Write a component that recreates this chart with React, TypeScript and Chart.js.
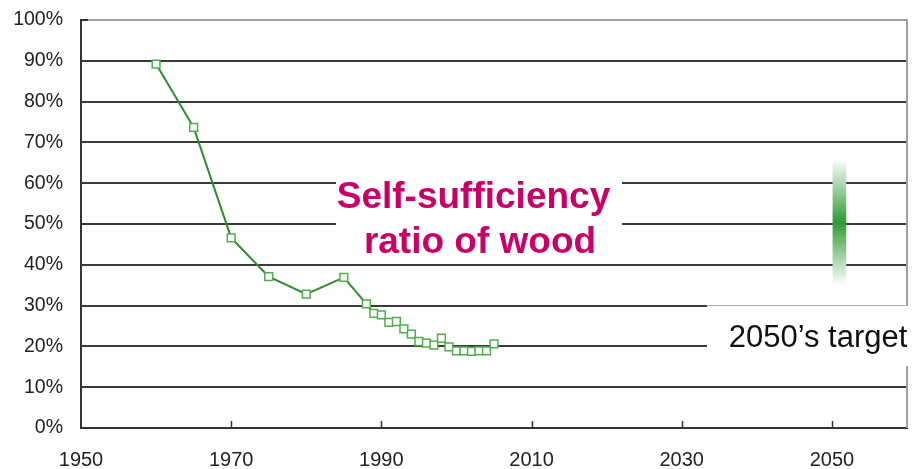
import { useEffect, useRef } from 'react';
import { Chart, registerables } from 'chart.js';

Chart.register(...registerables);

const FONT = '"Liberation Sans", Arial, Helvetica, sans-serif';

// Data
const years = [1960, 1965, 1970, 1975, 1980, 1985, 1988, 1989, 1990, 1991, 1992, 1993, 1994, 1995, 1996, 1997, 1998, 1999, 2000, 2001, 2002, 2003, 2004, 2005];
const ratios = [89.2, 73.7, 46.6, 37.1, 32.8, 36.9, 30.4, 28.1, 27.7, 25.9, 26.1, 24.3, 23.0, 21.2, 20.8, 20.3, 22.0, 19.9, 18.9, 18.9, 18.8, 18.9, 18.9, 20.6];
const targetYear = 2051;
const targetRange = [35, 66];
const xTickValues = [1950, 1970, 1990, 2010, 2030, 2050];
const yTickValues = [0, 10, 20, 30, 40, 50, 60, 70, 80, 90, 100];
const titleLines = ['Self-sufficiency', 'ratio of wood'];
const targetLabel = '2050\u2019s target';

const overlay = {
  id: 'overlay',
  afterDraw(chart: any) {
    const { ctx, chartArea: a, scales } = chart;
    const x = scales.x;
    const y = scales.y;
    ctx.save();
    // right frame border
    ctx.strokeStyle = '#a0a0a0';
    ctx.lineWidth = 2;
    ctx.beginPath();
    ctx.moveTo(a.right, a.top - 1);
    ctx.lineTo(a.right, a.bottom);
    ctx.stroke();
    // inside tick marks on x axis
    ctx.strokeStyle = '#333';
    ctx.lineWidth = 1.5;
    xTickValues.forEach((v, i) => {
      if (i === 0) return;
      const px = Math.round(x.getPixelForValue(v)) + 0.5;
      ctx.beginPath();
      ctx.moveTo(px, a.bottom);
      ctx.lineTo(px, a.bottom - 7);
      ctx.stroke();
    });
    // inside tick at top of y axis
    const py = y.getPixelForValue(100);
    ctx.lineWidth = 2;
    ctx.beginPath();
    ctx.moveTo(a.left, py);
    ctx.lineTo(a.left + 7, py);
    ctx.stroke();

    // title box
    ctx.fillStyle = '#ffffff';
    ctx.fillRect(336, 165, 286, 95);
    ctx.fillStyle = '#c80068';
    ctx.font = `bold 37px ${FONT}`;
    ctx.textAlign = 'center';
    ctx.textBaseline = 'alphabetic';
    ctx.fillText(titleLines[0], 473.5, 208);
    ctx.fillText(titleLines[1], 480, 253);

    // target label box
    ctx.fillStyle = '#ffffff';
    ctx.fillRect(707, 306, 215, 60);
    ctx.strokeStyle = '#b0b0b0';
    ctx.lineWidth = 1;
    ctx.beginPath();
    ctx.moveTo(707, 305.5);
    ctx.lineTo(a.right, 305.5);
    ctx.stroke();
    ctx.fillStyle = '#111';
    ctx.font = `31px ${FONT}`;
    ctx.fillText(targetLabel, 818, 347);
    ctx.restore();
  },
};

export default function App() {
  const ref = useRef<HTMLCanvasElement>(null);
  useEffect(() => {
    document.body.style.margin = '0';
    const canvas = ref.current!;
    const chart = new Chart(canvas, {
      type: 'line',
      data: {
        datasets: [
          {
            type: 'line',
            data: years.map((yr, i) => ({ x: yr, y: ratios[i] })),
            borderColor: '#2e8b2e',
            borderWidth: 2,
            pointStyle: 'rect',
            pointRadius: 5.5,
            pointBorderColor: '#4fae4f',
            pointBackgroundColor: '#ffffff',
            pointBorderWidth: 1.5,
            tension: 0,
            order: 1,
          } as any,
          {
            type: 'bar',
            data: [{ x: targetYear, y: targetRange }],
            barThickness: 13,
            borderWidth: 0,
            order: 2,
            backgroundColor: (c: any) => {
              const ch = c.chart;
              if (!ch.chartArea) return '#2f9b35';
              const ys = ch.scales.y;
              const top = ys.getPixelForValue(targetRange[1]);
              const bot = ys.getPixelForValue(targetRange[0]);
              const g = ch.ctx.createLinearGradient(0, top, 0, bot);
              g.addColorStop(0, '#ffffff');
              g.addColorStop(0.5, '#2f9b35');
              g.addColorStop(1, '#ffffff');
              return g;
            },
          } as any,
        ],
      },
      options: {
        animation: false,
        responsive: false,
        devicePixelRatio: 1,
        layout: { padding: { top: 20, right: 15, left: 0, bottom: 0 } },
        plugins: { legend: { display: false }, tooltip: { enabled: false } },
        scales: {
          x: {
            type: 'linear',
            min: 1950,
            max: 2060,
            offset: false,
            afterBuildTicks: (s: any) => {
              s.ticks = xTickValues.map((v) => ({ value: v }));
            },
            afterFit: (s: any) => {
              s.height = 41;
            },
            grid: { display: false, drawTicks: false, tickLength: 0, offset: false },
            border: { display: true, color: '#333', width: 2 },
            ticks: {
              font: { family: FONT, size: 20 },
              color: '#222',
              padding: 20,
              maxRotation: 0,
              autoSkip: false,
              callback: (v: any) => String(v),
            },
          },
          y: {
            type: 'linear',
            min: 0,
            max: 100,
            afterBuildTicks: (s: any) => {
              s.ticks = yTickValues.map((v) => ({ value: v }));
            },
            afterFit: (s: any) => {
              s.width = 81;
              s.paddingTop = 0;
              s.paddingBottom = 0;
            },
            grid: {
              color: (c: any) => (c.tick && c.tick.value === 100 ? '#a0a0a0' : '#3a3a3a'),
              lineWidth: 2,
              drawTicks: false,
              tickLength: 0,
            },
            border: { display: true, color: '#333', width: 2 },
            ticks: {
              font: { family: FONT, size: 19.5 },
              color: '#222',
              padding: 18,
              autoSkip: false,
              callback: (v: any) => v + '%',
            },
          },
        },
      },
      plugins: [overlay],
    } as any);
    return () => chart.destroy();
  }, []);
  return <canvas ref={ref} width={922} height={469} style={{ display: 'block' }} />;
}
